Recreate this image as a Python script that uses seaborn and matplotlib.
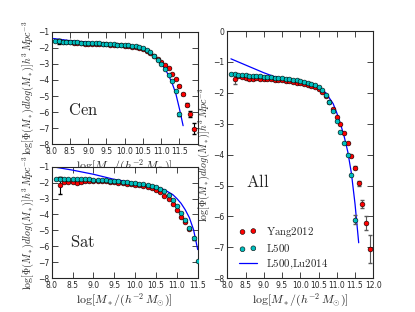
import matplotlib
matplotlib.use('Agg')
import matplotlib.pyplot as plt
import numpy as np
import pandas as pd
import seaborn as sns

# ---- data ----
# Central galaxies
cen_l500_x = [8.1, 8.2, 8.3, 8.4, 8.5, 8.6, 8.7, 8.8, 8.9, 9.0, 9.1, 9.2, 9.3, 9.4, 9.5, 9.6, 9.7, 9.8,
              9.9, 10.0, 10.1, 10.2, 10.3, 10.4, 10.5, 10.6, 10.7, 10.8, 10.9, 11.0, 11.1, 11.2, 11.3, 11.4, 11.5]
cen_l500_y = [-1.60, -1.60, -1.62, -1.63, -1.64, -1.65, -1.66, -1.67, -1.68, -1.69, -1.70, -1.71, -1.72,
              -1.73, -1.74, -1.76, -1.77, -1.79, -1.81, -1.83, -1.85, -1.88, -1.91, -1.95, -2.02, -2.13,
              -2.28, -2.50, -2.75, -3.00, -3.34, -3.68, -4.06, -4.70, -6.13]
cen_l500_err = [0.0] * 34 + [0.1]
cen_yang_x = [8.2, 8.3, 8.4, 8.5, 8.6, 8.7, 8.8, 8.9, 9.0, 9.1, 9.2, 9.3, 9.4, 9.5, 9.6, 9.7, 9.8, 9.9,
              10.0, 10.1, 10.2, 10.3, 10.4, 10.5, 10.6, 10.7, 10.8, 10.9, 11.0, 11.1, 11.2, 11.3, 11.4,
              11.5, 11.6, 11.7, 11.8, 11.9]
cen_yang_y = [-1.58, -1.62, -1.64, -1.65, -1.67, -1.69, -1.72, -1.74, -1.75, -1.74, -1.75, -1.76, -1.77,
              -1.78, -1.79, -1.81, -1.82, -1.85, -1.87, -1.89, -1.92, -1.96, -2.01, -2.08, -2.18, -2.33,
              -2.50, -2.70, -2.88, -3.05, -3.26, -3.60, -3.97, -4.37, -4.87, -5.53, -6.13, -7.03]
cen_yang_err = [0.15] + [0.0] * 32 + [0.05, 0.08, 0.12, 0.17, 0.35]
cen_lu_x = [8.05, 8.5, 9.0, 9.5, 10.0, 10.3, 10.5, 10.7, 10.9, 11.0, 11.1, 11.2, 11.3, 11.4, 11.5, 11.6]
cen_lu_y = [-1.42, -1.55, -1.64, -1.73, -1.84, -1.93, -2.05, -2.30, -2.70, -2.98, -3.30, -3.70, -4.20,
            -4.85, -5.80, -6.85]

# Satellite galaxies
sat_l500_x = cen_l500_x
sat_l500_y = [-1.75, -1.75, -1.76, -1.76, -1.77, -1.77, -1.78, -1.79, -1.80, -1.81, -1.83, -1.84, -1.86,
              -1.88, -1.90, -1.92, -1.94, -1.97, -2.00, -2.03, -2.07, -2.11, -2.16, -2.22, -2.30, -2.40,
              -2.55, -2.80, -3.12, -3.50, -3.92, -4.34, -4.82, -5.50, -6.90]
sat_l500_err = [0.0, 0.12] + [0.0] * 31 + [0.1, 0.0]
sat_yang_x = [8.2, 8.3, 8.4, 8.5, 8.6, 8.7, 8.8, 8.9, 9.0, 9.1, 9.2, 9.3, 9.4, 9.5, 9.6, 9.7, 9.8, 9.9,
              10.0, 10.1, 10.2, 10.3, 10.4, 10.5, 10.6, 10.7, 10.8, 10.9, 11.0, 11.1, 11.2, 11.3]
sat_yang_y = [-2.18, -1.95, -1.95, -1.97, -2.00, -1.96, -1.92, -1.90, -1.90, -1.90, -1.92, -1.93, -1.95,
              -1.97, -2.00, -2.03, -2.06, -2.09, -2.13, -2.18, -2.23, -2.29, -2.37, -2.47, -2.62, -2.82,
              -3.05, -3.36, -3.71, -4.13, -4.50, -4.90]
sat_yang_err = [0.55] + [0.0] * 31
sat_lu_x = [8.0, 8.5, 9.0, 9.5, 10.0, 10.5, 10.7, 10.9, 11.0, 11.1, 11.2, 11.3, 11.4, 11.5]
sat_lu_y = [-1.0, -1.22, -1.48, -1.80, -2.02, -2.27, -2.45, -2.75, -3.00, -3.30, -3.70, -4.20, -4.95, -6.20]

# All galaxies
all_l500_x = cen_l500_x
all_l500_y = [-1.38, -1.39, -1.41, -1.42, -1.43, -1.44, -1.45, -1.46, -1.47, -1.48, -1.49, -1.50, -1.51,
              -1.52, -1.53, -1.55, -1.56, -1.58, -1.60, -1.62, -1.64, -1.67, -1.70, -1.74, -1.80, -1.90,
              -2.08, -2.30, -2.58, -2.90, -3.27, -3.61, -4.01, -4.67, -6.10]
all_l500_err = [0.0] * 34 + [0.15]
all_yang_x = cen_yang_x
all_yang_y = [-1.55, -1.47, -1.50, -1.52, -1.54, -1.56, -1.53, -1.55, -1.56, -1.55, -1.56, -1.57, -1.58,
              -1.60, -1.61, -1.63, -1.65, -1.67, -1.69, -1.71, -1.74, -1.77, -1.82, -1.88, -1.97, -2.10,
              -2.30, -2.53, -2.77, -3.02, -3.31, -3.63, -4.03, -4.42, -4.93, -5.60, -6.22, -7.06]
all_yang_err = [0.15] + [0.0] * 32 + [0.05, 0.08, 0.14, 0.22, 0.45]
all_lu_x = [8.1, 8.5, 9.0, 9.3, 9.5, 10.0, 10.3, 10.5, 10.7, 10.9, 11.0, 11.1, 11.2, 11.3, 11.4, 11.5, 11.6]
all_lu_y = [-0.90, -1.10, -1.35, -1.48, -1.53, -1.65, -1.73, -1.82, -2.00, -2.35, -2.65, -3.00, -3.40,
            -3.90, -4.60, -5.60, -6.85]

sns.set_style('ticks', {'xtick.direction': 'in', 'ytick.direction': 'in'})
plt.rcParams['mathtext.fontset'] = 'cm'
plt.rcParams['font.family'] = ['DejaVu Sans']
plt.rcParams['xtick.top'] = True
plt.rcParams['ytick.right'] = True
plt.rcParams['xtick.labelsize'] = 5.5
plt.rcParams['ytick.labelsize'] = 5.5
plt.rcParams['axes.linewidth'] = 0.8

fig = plt.figure(figsize=(4.15, 3.12), dpi=100)
ax_cen = fig.add_axes([0.1246, 0.538, 0.3518, 0.360])
ax_sat = fig.add_axes([0.1246, 0.108, 0.3518, 0.358])
ax_all = fig.add_axes([0.5477, 0.108, 0.3518, 0.7926])

ylab = r'$\log[\Phi(M_*)dlog(M_*)]h^3\,Mpc^{-3}$'
xlab = r'$\log[M_*/(h^{-2}\,M_{\odot})]$'
mk = dict(s=12, edgecolor='black', linewidth=0.4, marker='o', zorder=3)


def draw_panel(ax, lx, ly, yx, yy, yerr, cx, cy, cerr, ecol):
    sns.lineplot(x=lx, y=ly, ax=ax, color='blue', linewidth=0.9, label='L500,Lu2014', zorder=2,
                 estimator=None, sort=False)
    ax.errorbar(yx, yy, yerr=yerr, fmt='none', ecolor=ecol, elinewidth=0.8, capsize=1.5, zorder=2)
    ax.errorbar(cx, cy, yerr=cerr, fmt='none', ecolor=ecol, elinewidth=0.8, capsize=1.5, zorder=2)
    sns.scatterplot(x=yx, y=yy, ax=ax, color='red', label='Yang2012', **mk)
    sns.scatterplot(x=cx, y=cy, ax=ax, color=(0.0, 0.75, 0.75), label='L500', **mk)
    ax.get_legend().remove()


draw_panel(ax_cen, cen_lu_x, cen_lu_y, cen_yang_x, cen_yang_y, cen_yang_err, cen_l500_x, cen_l500_y,
           cen_l500_err, 'black')
draw_panel(ax_sat, sat_lu_x, sat_lu_y, sat_yang_x, sat_yang_y, sat_yang_err, sat_l500_x, sat_l500_y,
           sat_l500_err, 'black')
draw_panel(ax_all, all_lu_x, all_lu_y, all_yang_x, all_yang_y, all_yang_err, all_l500_x, all_l500_y,
           all_l500_err, '0.35')

for ax in (ax_cen, ax_sat, ax_all):
    ax.set_xlabel(xlab, fontsize=8.5, labelpad=1)
    ax.set_ylabel(ylab, fontsize=7.2, labelpad=1)
    ax.tick_params(length=4, width=0.6, pad=2)
    ax.set_xticks([8.0, 8.5, 9.0, 9.5, 10.0, 10.5, 11.0, 11.5, 12.0])
    ax.set_xticklabels(['8.0', '8.5', '9.0', '9.5', '10.0', '10.5', '11.0', '11.5', '12.0'])
ax_cen.set_xticklabels(['8.0', '8.5', '9.0', '9.5', '10.0', '10.5', '11.0', '11.5', ''])
for ax in (ax_cen, ax_sat):
    ax.set_yticks([-8, -7, -6, -5, -4, -3, -2, -1])
ax_all.set_yticks([-8, -7, -6, -5, -4, -3, -2, -1, 0])

ax_cen.set_xlim(8.0, 12.0)
ax_cen.set_ylim(-8, -1)
ax_sat.set_xlim(8.0, 11.5)
ax_sat.set_ylim(-8, -1)
ax_all.set_xlim(8.0, 12.0)
ax_all.set_ylim(-8, 0)

ax_cen.text(8.45, -5.9, r'$\mathrm{Cen}$', fontsize=12, va='center')
ax_sat.text(8.45, -5.75, r'$\mathrm{Sat}$', fontsize=12, va='center')
ax_all.text(8.5, -4.9, r'$\mathrm{All}$', fontsize=12, va='center')

h, l = ax_all.get_legend_handles_labels()
order = [l.index('Yang2012'), l.index('L500'), l.index('L500,Lu2014')]
leg = ax_all.legend([h[i] for i in order],
                    [r'$\mathrm{Yang2012}$', r'$\mathrm{L500}$', r'$\mathrm{L500{,}Lu2014}$'],
                    loc='lower left', bbox_to_anchor=(0.03, 0.0), frameon=False, fontsize=7.8,
                    scatterpoints=2, handlelength=1.6, handletextpad=0.9, labelspacing=0.3,
                    borderpad=0.4, borderaxespad=0.3)

fig.savefig('out.png', dpi=100)
